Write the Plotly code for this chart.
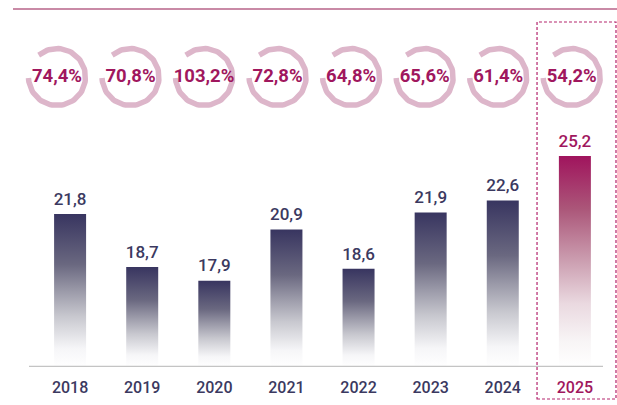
import numpy as np
import plotly.graph_objects as go

# ---------------- data ----------------
years = ["2018", "2019", "2020", "2021", "2022", "2023", "2024", "2025"]
values = [21.8, 18.7, 17.9, 20.9, 18.6, 21.9, 22.6, 25.2]
value_labels = ["21,8", "18,7", "17,9", "20,9", "18,6", "21,9", "22,6", "25,2"]
ratios = [74.4, 70.8, 103.2, 72.8, 64.8, 65.6, 61.4, 54.2]
ratio_labels = ["74,4%", "70,8%", "103,2%", "72,8%", "64,8%", "65,6%", "61,4%", "54,2%"]
highlight = "2025"

# ---------------- styles ----------------
W, H = 617, 405
MB = 38                      # bottom margin
PH = H - MB                  # plot height (baseline at bottom)
Y_MIN = 12.85                # axis value at the baseline
YPX = 17.085                 # px per unit
Y_MAX = Y_MIN + PH / YPX
X_RANGE = [-0.972, 7.584]    # bars axis
X2_RANGE = [-0.775, 7.615]   # rings axis
NAVY = "#3b3960"
CRIMSON = "#a0175e"
RING = "#ddb6ca"
FONT = "Roboto"

x2px = W / (X2_RANGE[1] - X2_RANGE[0])
xpx = W / (X_RANGE[1] - X_RANGE[0])

half_w = 16 / xpx
ring_y = Y_MIN + (PH - 77) / YPX
ring_r = 28.5
label_gap = 5 / YPX

navy_scale = [[0, "#ffffff"], [0.12, "#f6f6f8"], [0.33, "#c8c8cf"], [0.5, "#9a99a8"],
              [0.67, "#6a6880"], [1, "#383560"]]
crimson_scale = [[0, "#ffffff"], [0.12, "#f8f5f6"], [0.3, "#ead9e0"], [0.5, "#cc9fb1"],
                 [0.75, "#ab5679"], [1, "#a0145d"]]

fig = go.Figure()

# bars with vertical gradients
for i, (yr, v) in enumerate(zip(years, values)):
    hl = yr == highlight
    fig.add_trace(go.Scatter(
        x=[i - half_w, i + half_w, i + half_w, i - half_w, i - half_w],
        y=[Y_MIN, Y_MIN, v, v, Y_MIN],
        mode="lines", line=dict(width=0), fill="toself",
        fillgradient=dict(type="vertical", colorscale=crimson_scale if hl else navy_scale),
        hoverinfo="skip", showlegend=False,
    ))

# value labels
fig.add_trace(go.Scatter(
    x=list(range(len(years))), y=[v + label_gap for v in values], mode="text", text=value_labels,
    textposition="top center",
    textfont=dict(family=FONT, size=17, weight=500,
                  color=[CRIMSON if y == highlight else NAVY for y in years]),
    hoverinfo="skip", showlegend=False,
))

# rings (open arcs)
rx, ry = [], []
theta = np.radians(np.linspace(130, -178, 80))
for i in range(len(years)):
    rx += list(i + ring_r * np.cos(theta) / x2px) + [None]
    ry += list(ring_y + ring_r * np.sin(theta) / YPX) + [None]
fig.add_trace(go.Scatter(x=rx, y=ry, xaxis="x2", mode="lines",
                         line=dict(color=RING, width=5.5),
                         hoverinfo="skip", showlegend=False))
fig.add_trace(go.Scatter(
    x=list(range(len(years))), y=[ring_y] * len(years), xaxis="x2", mode="text",
    text=ratio_labels, textposition="middle center",
    textfont=dict(family=FONT, size=18.5, weight=700, color=CRIMSON),
    hoverinfo="skip", showlegend=False,
))

ticktext = [f"<span style='color:{CRIMSON}'>{y}</span>" if y == highlight else y for y in years]

fig.update_layout(
    width=W, height=H,
    margin=dict(l=0, r=0, t=0, b=MB),
    paper_bgcolor="white", plot_bgcolor="white",
    hovermode=False,
    xaxis=dict(range=X_RANGE, tickvals=list(range(len(years))), ticktext=ticktext,
               showgrid=False, zeroline=False, showline=False,
               ticks="outside", ticklen=6, tickcolor="rgba(0,0,0,0)",
               tickfont=dict(family=FONT, size=16, weight=500, color=NAVY)),
    xaxis2=dict(range=X2_RANGE, overlaying="x", visible=False),
    yaxis=dict(range=[Y_MIN, Y_MAX], visible=False),
    shapes=[
        dict(type="line", xref="paper", yref="paper", x0=13 / W, x1=1, y0=(PH - 9) / PH, y1=(PH - 9) / PH,
             line=dict(color="#c98aa6", width=2)),
        dict(type="line", xref="x", yref="y", x0=-0.57, x1=7.39, y0=Y_MIN, y1=Y_MIN,
             line=dict(color="#c4c4c4", width=2.5)),
        dict(type="rect", xref="x", yref="paper", x0=6.475, x1=7.57,
             y0=(PH - 399) / PH, y1=(PH - 22) / PH,
             line=dict(color="#b3246c", width=1.2, dash="3px,2px")),
    ],
)

fig.write_html(
    "out.html",
    config={"displayModeBar": False},
    post_script="document.body.style.margin='0';document.documentElement.style.overflow='hidden';",
)
